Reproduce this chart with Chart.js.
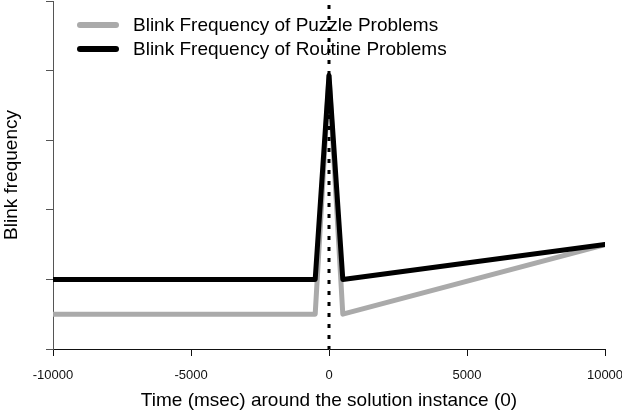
<!DOCTYPE html>
<html>
<head>
<meta charset="utf-8">
<script src="https://cdn.jsdelivr.net/npm/chart.js@4/dist/chart.umd.min.js"></script>
<style>
  html, body { margin: 0; padding: 0; background: #ffffff; }
  canvas { display: block; }
</style>
</head>
<body>
<canvas id="c" width="622" height="412"></canvas>
<script>
// ---- data ----
const timePoints = [-10000, -500, 0, 500, 10000];
const puzzleBlinks = [0.5, 0.5, 3.93, 0.5, 1.5];
const routineBlinks = [1, 1, 3.93, 1, 1.5];
const seriesLabels = ['Blink Frequency of Puzzle Problems', 'Blink Frequency of Routine Problems'];
const xTickValues = [-10000, -5000, 0, 5000, 10000];
const solutionInstant = 0;

const FONT = "'Liberation Sans', Arial, sans-serif";

function pts(xs, ys) { return xs.map((x, i) => ({ x: x, y: ys[i] })); }

const legendPlugin = {
  id: 'rLegend',
  afterDraw(chart) {
    const ctx = chart.ctx;
    const ds = chart.data.datasets;
    ctx.save();
    [0, 1].forEach((di, row) => {
      const y = 25 + row * 24;
      ctx.strokeStyle = ds[di].borderColor;
      ctx.lineWidth = 6;
      ctx.lineCap = 'round';
      ctx.beginPath();
      ctx.moveTo(80, y);
      ctx.lineTo(116, y);
      ctx.stroke();
      ctx.fillStyle = '#000';
      ctx.font = '19px ' + FONT;
      ctx.textBaseline = 'middle';
      ctx.textAlign = 'left';
      ctx.fillText(ds[di].label, 133, y + 1);
    });
    ctx.restore();
  }
};

const vlinePlugin = {
  id: 'vline',
  afterDatasetsDraw(chart) {
    const x = chart.scales.x.getPixelForValue(solutionInstant);
    const ctx = chart.ctx;
    ctx.save();
    ctx.strokeStyle = '#000';
    ctx.lineWidth = 3;
    ctx.setLineDash([4, 7]);
    ctx.lineCap = 'butt';
    ctx.beginPath();
    ctx.moveTo(x, 5);
    ctx.lineTo(x, chart.chartArea.bottom);
    ctx.stroke();
    ctx.restore();
  }
};

new Chart(document.getElementById('c'), {
  type: 'line',
  data: {
    datasets: [
      {
        label: seriesLabels[0],
        data: pts(timePoints, puzzleBlinks),
        borderColor: '#aaaaaa',
        borderWidth: 5,
        pointRadius: 0,
        tension: 0,
        borderJoinStyle: 'round',
        borderCapStyle: 'round',
        order: 2
      },
      {
        label: seriesLabels[1],
        data: pts(timePoints, routineBlinks),
        borderColor: '#000000',
        borderWidth: 5,
        pointRadius: 0,
        tension: 0,
        borderJoinStyle: 'round',
        borderCapStyle: 'round',
        order: 1
      }
    ]
  },
  options: {
    responsive: false,
    animation: false,
    events: [],
    layout: { padding: { top: 1, right: 0, left: 0, bottom: 0 } },
    plugins: { legend: { display: false }, tooltip: { enabled: false } },
    scales: {
      x: {
        type: 'linear',
        min: -10000,
        max: 10000,
        afterBuildTicks(scale) { scale.ticks = xTickValues.map(v => ({ value: v })); },
        afterFit(scale) { scale.height = 63; scale.paddingRight = 17; scale.paddingLeft = 0; },
        border: { display: true, color: '#111', width: 1 },
        grid: { drawOnChartArea: false, drawTicks: true, tickLength: 7, color: '#111' },
        ticks: {
          color: '#111',
          font: { family: FONT, size: 13 },
          padding: 12,
          maxRotation: 0,
          autoSkip: false,
          callback: v => String(v)
        },
        title: {
          display: true,
          text: 'Time (msec) around the solution instance (0)',
          color: '#000',
          font: { family: FONT, size: 19, lineHeight: 1.2 },
          padding: { top: 0, bottom: 0 }
        }
      },
      y: {
        min: 0,
        max: 5,
        afterFit(scale) { scale.width = 53; },
        border: { display: true, color: '#555', width: 1 },
        grid: { drawOnChartArea: false, drawTicks: true, tickLength: 7, color: '#555' },
        ticks: { stepSize: 1, display: false },
        title: {
          display: true,
          text: 'Blink frequency',
          color: '#000',
          font: { family: FONT, size: 19, lineHeight: 1.2 },
          padding: { top: 0, bottom: 0 }
        }
      }
    }
  },
  plugins: [legendPlugin, vlinePlugin]
});
</script>
</body>
</html>
